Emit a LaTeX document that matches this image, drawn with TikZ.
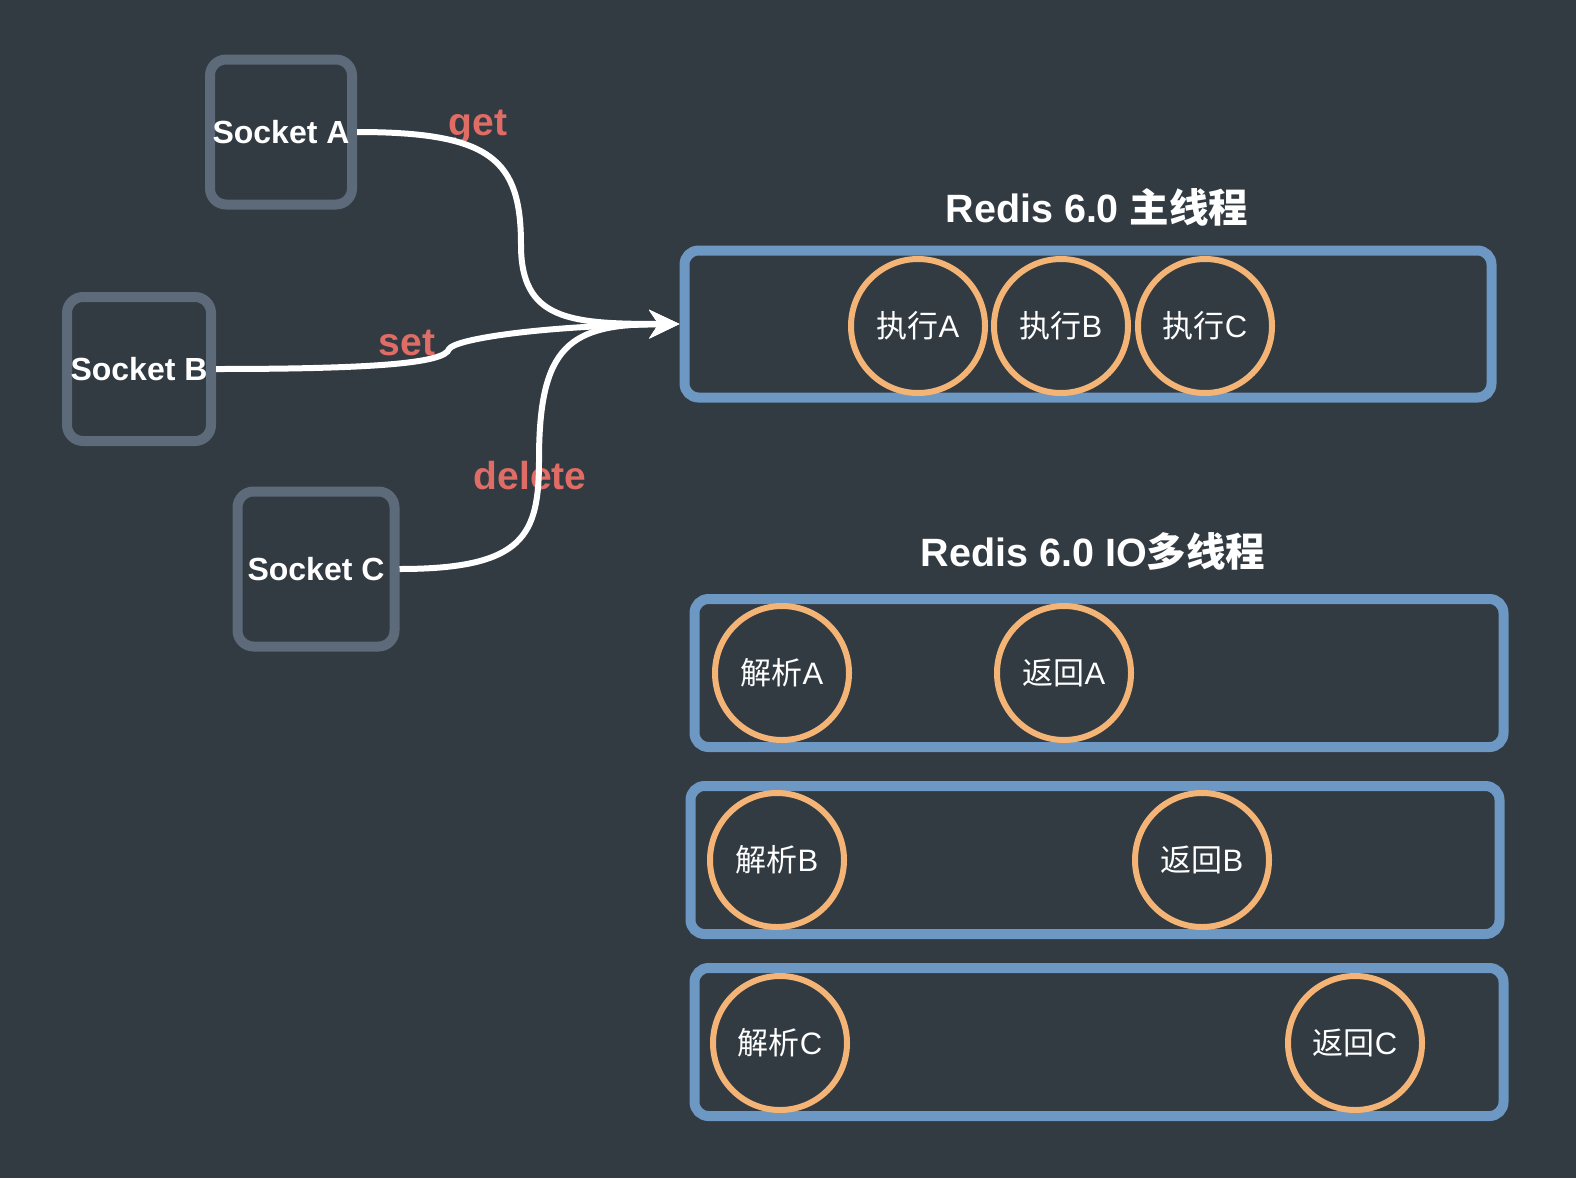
\documentclass[tikz,border=0pt]{standalone}
\usepackage{fontspec}
\setmainfont{Liberation Sans}
\newfontfamily\cjk{Noto Sans CJK SC}
\usetikzlibrary{positioning, arrows.meta}

\definecolor{boardbg}{RGB}{50,58,66}
\definecolor{sockgrey}{RGB}{92,106,121}
\definecolor{threadblue}{RGB}{108,152,195}
\definecolor{joborange}{RGB}{244,180,118}
\definecolor{cmdred}{RGB}{224,108,102}

\tikzset{
	socket/.style={draw=sockgrey, line width=10pt, rounded corners=16pt, inner sep=0pt,
		text=white, font=\fontsize{32}{36}\selectfont\bfseries},
	thread/.style={draw=threadblue, line width=10pt, rounded corners=14pt,
		minimum width=809pt, minimum height=148pt},
	job/.style={circle, draw=joborange, line width=6pt, minimum size=134pt, inner sep=0pt,
		text=white, font=\fontsize{31}{36}\selectfont},
	title/.style={text=white, font=\fontsize{39.5}{44}\selectfont\bfseries},
	cmd/.style={text=cmdred, font=\fontsize{39}{44}\selectfont\bfseries},
	flow/.style={draw=white, line width=6pt, -{Stealth[length=30pt,width=28pt,inset=9pt]}},
}

\begin{document}
\begin{tikzpicture}[x=1pt, y=-1pt]
	\fill[boardbg] (0,0) rectangle (1576,1178);

	% sockets
	\node[socket, minimum width=142pt, minimum height=145pt] (sockA) at (281,132) {Socket A};
	\node[socket, minimum width=144pt, minimum height=144pt] (sockB) at (139,369) {Socket B};
	\node[socket, minimum width=157pt, minimum height=155pt] (sockC) at (316,569) {Socket C};

	% main thread
	\node[title] (titleMain) at (1097,207) {Redis 6.0 {\cjk 主线程}};
	\node[thread, minimum width=807pt, minimum height=147pt] (mainbox) at (1088,324) {};
	\node[job] (exeA) at (918,326) {{\cjk 执行}A};
	\node[job, right=3pt of exeA] (exeB) {{\cjk 执行}B};
	\node[job, right=4pt of exeB] (exeC) {{\cjk 执行}C};

	% io threads
	\node[title] (titleIO) at (1093,551) {Redis 6.0 IO{\cjk 多线程}};
	\node[thread] (io1) at (1099,673) {};
	\node[thread] (io2) at (1095,860) {};
	\node[thread] (io3) at (1099,1042) {};
	\node[job] (parseA) at (782,673) {{\cjk 解析}A};
	\node[job] (retA) at (1064,673) {{\cjk 返回}A};
	\node[job] (parseB) at (777,860) {{\cjk 解析}B};
	\node[job] (retB) at (1202,860) {{\cjk 返回}B};
	\node[job] (parseC) at (780,1043) {{\cjk 解析}C};
	\node[job] (retC) at (1355,1043) {{\cjk 返回}C};

	% commands
	\node[cmd] (getlbl) at (478,127) {get};
	\node[cmd] (setlbl) at (407,343) {set};
	\node[cmd] (dellbl) at (530,476) {delete};

	\coordinate (getbend) at (521,245);
	\coordinate (setkink) at (449,349);
	\coordinate (delbend) at (539,460);

	\draw[flow] (sockA.east) .. controls +(135,0) and +(0,-85) .. (getbend)
		.. controls +(0,75) and +(-110,0) .. (mainbox.west);
	\draw[flow] (sockB.east) .. controls +(160,0) and +(-4,14) .. (setkink)
		.. controls +(6,-10) and +(-140,2) .. (mainbox.west);
	\draw[flow] (sockC.east) .. controls +(125,0) and +(0,75) .. (delbend)
		.. controls +(0,-115) and +(-110,0) .. (mainbox.west);
\end{tikzpicture}
\end{document}
